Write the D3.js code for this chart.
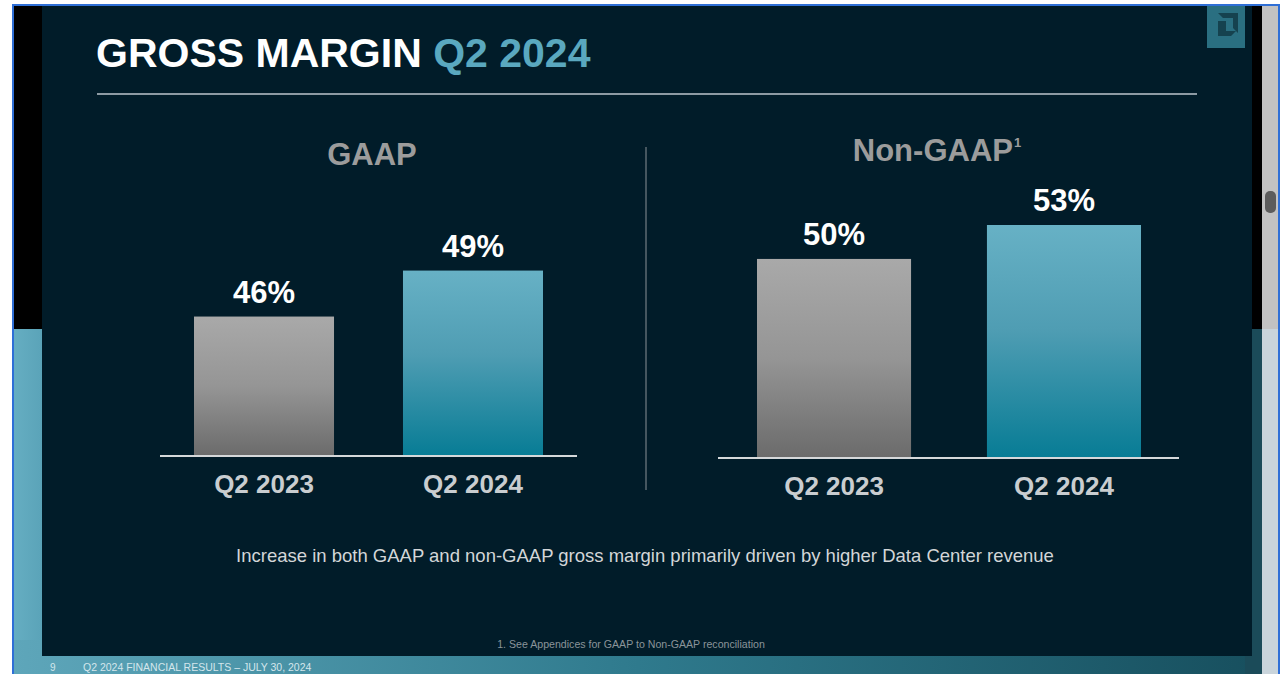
<!DOCTYPE html>
<html>
<head>
<meta charset="utf-8">
<script src="https://cdn.jsdelivr.net/npm/d3@7"></script>
<style>
html,body{margin:0;padding:0;background:#fff;overflow:hidden;}
svg{display:block;}
</style>
</head>
<body>
<script>
// ---- data ----
const categories = ["Q2 2023", "Q2 2024"];
const gaapValues = [46, 49];
const nonGaapValues = [50, 53];
const valueLabels = { gaap: ["46%", "49%"], nonGaap: ["50%", "53%"] };
const panelTitles = ["GAAP", "Non-GAAP"];
const titleMain = "GROSS MARGIN";
const titleAccent = "Q2 2024";
const subtitle = "Increase in both GAAP and non-GAAP gross margin primarily driven by higher Data Center revenue";
const footnote = "1. See Appendices for GAAP to Non-GAAP reconciliation";
const footerPage = "9";
const footerText = "Q2 2024 FINANCIAL RESULTS \u2013 JULY 30, 2024";

const W = 1280, H = 674;
const svg = d3.select("body").append("svg").attr("width", W).attr("height", H);
const defs = svg.append("defs");

function lg(id, stops, x2, y2) {
  const g = defs.append("linearGradient").attr("id", id)
    .attr("x1", 0).attr("y1", 0).attr("x2", x2).attr("y2", y2);
  stops.forEach(s => g.append("stop").attr("offset", s[0]).attr("stop-color", s[1]));
}
lg("grayBar", [[0, "#a9a9a9"], [0.5, "#959595"], [1, "#6b6b6b"]], 0, 1);
lg("tealBar", [[0, "#67b1c5"], [0.45, "#4f9db3"], [1, "#077c95"]], 0, 1);
lg("footBand", [[0, "#5ea6ba"], [0.5, "#2f7a8d"], [1, "#174f5e"]], 1, 0);
lg("leftTeal", [[0, "#66aec2"], [1, "#5aa3b8"]], 1, 0);

// ---- frame (screenshot chrome) ----
svg.append("rect").attr("x", 0).attr("y", 0).attr("width", W).attr("height", H).attr("fill", "#ffffff");
svg.append("rect").attr("x", 13).attr("y", 5).attr("width", 30).attr("height", 324).attr("fill", "#000000");
svg.append("rect").attr("x", 13).attr("y", 329).attr("width", 30).attr("height", 345).attr("fill", "url(#leftTeal)");
svg.append("rect").attr("x", 13).attr("y", 640).attr("width", 1250).attr("height", 34).attr("fill", "url(#footBand)");
svg.append("rect").attr("x", 1245).attr("y", 5).attr("width", 17).attr("height", 324).attr("fill", "#000000");
svg.append("rect").attr("x", 1245).attr("y", 329).attr("width", 17).attr("height", 345).attr("fill", "#1b4b59");
svg.append("rect").attr("x", 1262).attr("y", 5).attr("width", 17).attr("height", 324).attr("fill", "#c2c2c2");
svg.append("rect").attr("x", 1262).attr("y", 329).attr("width", 17).attr("height", 345).attr("fill", "#c9d4db");
svg.append("rect").attr("x", 1265).attr("y", 191).attr("width", 11).attr("height", 22).attr("rx", 5).attr("fill", "#5c5c5c");
svg.append("rect").attr("x", 42).attr("y", 5).attr("width", 1210).attr("height", 651).attr("fill", "#011c29");
svg.append("rect").attr("x", 12).attr("y", 4).attr("width", 1268).attr("height", 2).attr("fill", "#2f6fd6");
svg.append("rect").attr("x", 12).attr("y", 4).attr("width", 2).attr("height", 670).attr("fill", "#2f6fd6");
svg.append("rect").attr("x", 1278).attr("y", 4).attr("width", 2).attr("height", 670).attr("fill", "#2f6fd6");

// AMD logo box
const logo = svg.append("g").attr("transform", "translate(1207,6)");
logo.append("rect").attr("width", 38).attr("height", 42).attr("fill", "#2a6f81");
logo.append("path")
  .attr("d", "M11,7 L31,7 L31,27 L26,22 L26,12 L16,12 Z M11,15 L19,15 L19,25 L29,25 L24,30 L11,30 Z")
  .attr("fill", "#15424f");

// ---- title ----
const title = svg.append("text").attr("x", 96).attr("y", 67)
  .attr("font-family", "Liberation Sans, Arial, sans-serif").attr("font-weight", "bold")
  .attr("font-size", 41);
title.append("tspan").attr("fill", "#ffffff").text(titleMain + " ");
title.append("tspan").attr("fill", "#5aa8bf").text(titleAccent);
svg.append("line").attr("x1", 97).attr("x2", 1197).attr("y1", 94).attr("y2", 94)
  .attr("stroke", "#8d9aa3").attr("stroke-width", 2);

// vertical divider
svg.append("line").attr("x1", 646).attr("x2", 646).attr("y1", 147).attr("y2", 490)
  .attr("stroke", "#5d6a72").attr("stroke-width", 1.5);

// ---- panels ----
const panels = [
  { values: gaapValues, labels: valueLabels.gaap, title: panelTitles[0], sup: "",
    x0: 160, x1: 577, base: 456, domain: [36.9, 52.3], top: 220,
    bandRange: [194, 543], titleX: 372, titleY: 165 },
  { values: nonGaapValues, labels: valueLabels.nonGaap, title: panelTitles[1], sup: "1",
    x0: 718, x1: 1179, base: 458, domain: [32.4, 53.0], top: 225,
    bandRange: [757, 1141], titleX: 937, titleY: 161 }
];

const fills = ["url(#grayBar)", "url(#tealBar)"];

panels.forEach(p => {
  const g = svg.append("g");
  const x = d3.scaleBand().domain(categories).range(p.bandRange).paddingInner(0.33).paddingOuter(0);
  const y = d3.scaleLinear().domain(p.domain).range([p.base, p.top]);

  const t = g.append("text").attr("x", p.titleX).attr("y", p.titleY).attr("text-anchor", "middle")
    .attr("font-family", "Liberation Sans, Arial, sans-serif").attr("font-weight", "bold")
    .attr("font-size", 31).attr("fill", "#9c9c9c").text(p.title);
  if (p.sup) {
    t.append("tspan").attr("font-size", 13).attr("dy", -14).attr("dx", 1).text(p.sup);
  }

  g.selectAll("rect.bar").data(p.values).join("rect").attr("class", "bar")
    .attr("x", (d, i) => x(categories[i]))
    .attr("width", x.bandwidth())
    .attr("y", d => y(d))
    .attr("height", d => p.base - y(d))
    .attr("fill", (d, i) => fills[i]);

  g.selectAll("text.val").data(p.values).join("text").attr("class", "val")
    .attr("x", (d, i) => x(categories[i]) + x.bandwidth() / 2)
    .attr("y", d => y(d) - 14)
    .attr("text-anchor", "middle")
    .attr("font-family", "Liberation Sans, Arial, sans-serif").attr("font-weight", "bold")
    .attr("font-size", 31).attr("fill", "#ffffff")
    .text((d, i) => p.labels[i]);

  g.append("line").attr("x1", p.x0).attr("x2", p.x1).attr("y1", p.base).attr("y2", p.base)
    .attr("stroke", "#d5d8da").attr("stroke-width", 2);

  const axis = d3.axisBottom(x).tickSize(0).tickPadding(0);
  const ag = g.append("g").attr("transform", `translate(0,${p.base})`).call(axis);
  ag.select(".domain").remove();
  ag.selectAll("text")
    .attr("dy", 0).attr("y", 37)
    .attr("font-family", "Liberation Sans, Arial, sans-serif").attr("font-weight", "bold")
    .attr("font-size", 26).attr("fill", "#c9cdd0");
});

// ---- subtitle & footnote ----
svg.append("text").attr("x", 645).attr("y", 562).attr("text-anchor", "middle")
  .attr("font-family", "Liberation Sans, Arial, sans-serif").attr("font-size", 18.5)
  .attr("fill", "#d3d6d8").text(subtitle);
svg.append("text").attr("x", 631).attr("y", 648).attr("text-anchor", "middle")
  .attr("font-family", "Liberation Sans Narrow, Liberation Sans, Arial, sans-serif").attr("font-size", 10.6)
  .attr("fill", "#8a949a").text(footnote);

// footer
svg.append("text").attr("x", 50).attr("y", 671).attr("font-family", "Liberation Sans, Arial, sans-serif")
  .attr("font-size", 10).attr("fill", "#d4e6ec").text(footerPage);
svg.append("text").attr("x", 83).attr("y", 671).attr("font-family", "Liberation Sans Narrow, Liberation Sans, Arial, sans-serif")
  .attr("font-size", 10.5).attr("fill", "#d4e6ec").text(footerText);
</script>
</body>
</html>
